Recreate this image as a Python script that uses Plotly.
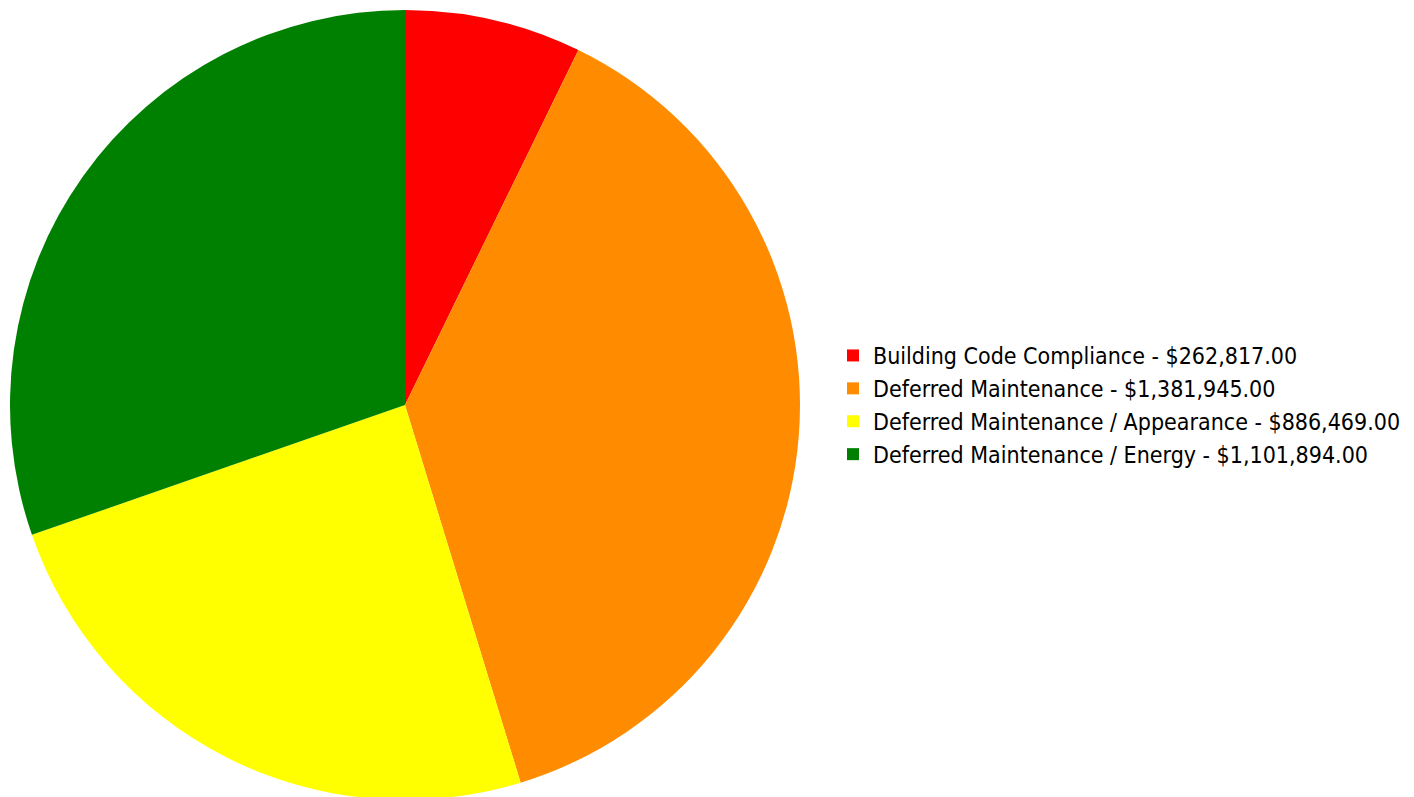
import plotly.graph_objects as go

categories = [
    "Building Code Compliance",
    "Deferred Maintenance",
    "Deferred Maintenance / Appearance",
    "Deferred Maintenance / Energy",
]
values = [262817.00, 1381945.00, 886469.00, 1101894.00]
colors = ["#FF0000", "#FF8C00", "#FFFF00", "#008000"]

labels = [f"{c} - ${v:,.2f}" for c, v in zip(categories, values)]

W, H = 1414, 797
T = 2
fig = go.Figure(
    go.Pie(
        labels=labels,
        values=values,
        marker=dict(colors=colors, line=dict(width=0)),
        sort=False,
        direction="clockwise",
        rotation=0,
        textinfo="none",
        hoverinfo="label+percent",
        domain=dict(x=[2 / W, 792 / W], y=[5 / (H - T), 1]),
    )
)
fig.update_layout(
    width=W,
    height=H,
    margin=dict(l=0, r=0, t=T, b=0),
    paper_bgcolor="white",
    plot_bgcolor="white",
    font=dict(family="DejaVu Sans Condensed", size=23, color="#000000"),
    legend=dict(
        x=825 / W,
        xanchor="left",
        y=(797 - 397) / (H - T),
        yanchor="middle",
        font=dict(size=23),
    ),
)
fig.write_html("out.html")
